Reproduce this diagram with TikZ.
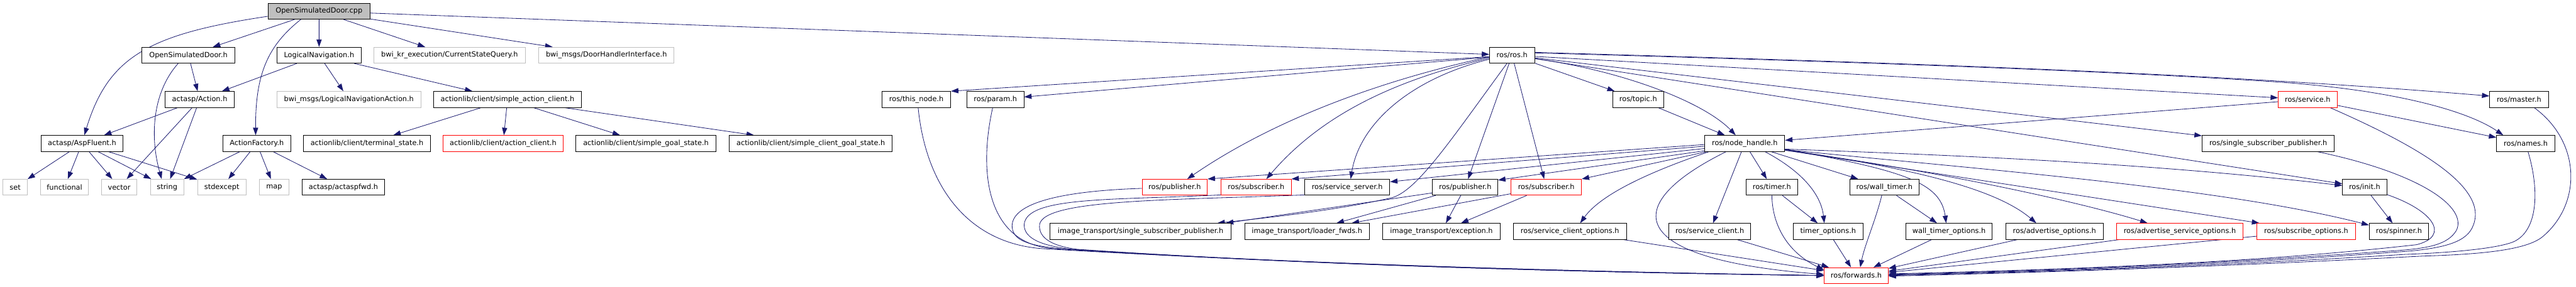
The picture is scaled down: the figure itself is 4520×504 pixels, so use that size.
\documentclass[tikz,border=0pt]{standalone}
\usepackage{fontspec}
\newfontfamily\djvfont{DejaVu Sans}
\usetikzlibrary{arrows.meta,calc}
\definecolor{edgec}{HTML}{191970}
\definecolor{nolink}{HTML}{BFBFBF}
\definecolor{rootfill}{HTML}{BFBFBF}
\definecolor{trunc}{HTML}{FF0000}
\pgfdeclarelayer{bg}
\pgfdeclarelayer{canvas}
\pgfsetlayers{canvas,bg,main}
\begin{document}
\begin{tikzpicture}[x=1pt,y=-1pt,
 nb/.style={draw=black, fill=white, line width=1pt, minimum height=28pt, inner sep=0pt, font=\djvfont\fontsize{12.5}{15}\selectfont},
 ng/.style={nb, draw=nolink},
 nr/.style={nb, draw=trunc},
 nroot/.style={nb, fill=rootfill},
 dep/.style={draw=edgec, line width=0.9pt, -{Triangle[length=13pt,width=9pt]}}]
\begin{pgfonlayer}{canvas}
\fill[white] (0,0) rectangle (4520,504);
\end{pgfonlayer}
\useasboundingbox (0,0) rectangle (4520,504);
% row 0
\node[nroot, minimum width=179.3pt] (cpp) at (559.85,19.7) {OpenSimulatedDoor.cpp};
% row 1
\node[nb, minimum width=162.8pt] (osdh) at (330.6,97) {OpenSimulatedDoor.h};
\node[nb, minimum width=147.4pt] (lognav) at (559.9,97) {LogicalNavigation.h};
\node[ng, minimum width=266pt] (csq) at (788.8,97) {bwi\_kr\_execution/CurrentStateQuery.h};
\node[ng, minimum width=237.1pt] (dhi) at (1064.05,97) {bwi\_msgs/DoorHandlerInterface.h};
\node[nb, minimum width=79pt] (rosh) at (2653.1,97) {ros/ros.h};
% row 2
\node[nb, minimum width=122.1pt] (action) at (350.45,174.7) {actasp/Action.h};
\node[ng, minimum width=252pt] (lna) at (612.2,174.7) {bwi\_msgs/LogicalNavigationAction.h};
\node[nb, minimum width=259.4pt] (sac) at (890.5,174.7) {actionlib/client/simple\_action\_client.h};
\node[nb, minimum width=120.2pt] (thisnode) at (1608,174.7) {ros/this\_node.h};
\node[nb, minimum width=99.8pt] (param) at (1746.6,174.7) {ros/param.h};
\node[nb, minimum width=89.7pt] (topic) at (2874.4,174.7) {ros/topic.h};
\node[nr, minimum width=103pt] (service) at (4049.1,174.7) {ros/service.h};
\node[nb, minimum width=103pt] (master) at (4420,174.7) {ros/master.h};
% row 3
\node[nb, minimum width=144.5pt] (aspfluent) at (143.95,252) {actasp/AspFluent.h};
\node[nb, minimum width=118.7pt] (actfac) at (450.55,252) {ActionFactory.h};
\node[nb, minimum width=222.5pt] (term) at (643.95,252) {actionlib/client/terminal\_state.h};
\node[nr, minimum width=209.9pt] (acli) at (882.75,252) {actionlib/client/action\_client.h};
\node[nb, minimum width=245.7pt] (sgs) at (1133.35,252) {actionlib/client/simple\_goal\_state.h};
\node[nb, minimum width=286.3pt] (scgs) at (1422.65,252) {actionlib/client/simple\_client\_goal\_state.h};
\node[nb, minimum width=140.3pt] (nh) at (3061.45,252) {ros/node\_handle.h};
\node[nb, minimum width=232.1pt] (ssp) at (3979.95,252) {ros/single\_subscriber\_publisher.h};
\node[nb, minimum width=102.1pt] (names) at (4431.75,252) {ros/names.h};
% row 4
\node[ng, minimum width=42.7pt] (set) at (26.65,329) {set};
\node[ng, minimum width=83.8pt] (functional) at (113.2,329) {functional};
\node[ng, minimum width=62.5pt] (vector) at (209.15,329) {vector};
\node[ng, minimum width=58.1pt] (string) at (293.25,329) {string};
\node[ng, minimum width=85.3pt] (stdexcept) at (389.25,329) {stdexcept};
\node[ng, minimum width=50.9pt] (map) at (481.05,329) {map};
\node[nb, minimum width=145.4pt] (fwd) at (602.5,329) {actasp/actaspfwd.h};
\node[nr, minimum width=114.4pt] (pub1) at (2061.2,329) {ros/publisher.h};
\node[nr, minimum width=123pt] (sub1) at (2204.1,329) {ros/subscriber.h};
\node[nb, minimum width=149.3pt] (srvserver) at (2363.95,329) {ros/service\_server.h};
\node[nb, minimum width=114.4pt] (pub2) at (2570.9,329) {ros/publisher.h};
\node[nr, minimum width=123.6pt] (sub2) at (2713.2,329) {ros/subscriber.h};
\node[nb, minimum width=91pt] (timer) at (3109,329) {ros/timer.h};
\node[nb, minimum width=120.9pt] (walltimer) at (3306.45,329) {ros/wall\_timer.h};
\node[nb, minimum width=77.6pt] (init) at (4149.1,329) {ros/init.h};
% row 5
\node[nb, minimum width=318.5pt] (isp) at (2001.35,406.5) {image\_transport/single\_subscriber\_publisher.h};
\node[nb, minimum width=218.9pt] (loader) at (2293.25,406.5) {image\_transport/loader\_fwds.h};
\node[nb, minimum width=206.5pt] (exc) at (2529.25,406.5) {image\_transport/exception.h};
\node[nb, minimum width=198.7pt] (sco) at (2754.65,406.5) {ros/service\_client\_options.h};
\node[nb, minimum width=143.7pt] (sclient) at (3000.05,406.5) {ros/service\_client.h};
\node[nb, minimum width=122.4pt] (topt) at (3207.7,406.5) {timer\_options.h};
\node[nb, minimum width=151.7pt] (wtopt) at (3419.85,406.5) {wall\_timer\_options.h};
\node[nb, minimum width=170.6pt] (advopt) at (3604.9,406.5) {ros/advertise\_options.h};
\node[nr, minimum width=222.2pt] (asopt) at (3824.7,406.5) {ros/advertise\_service\_options.h};
\node[nr, minimum width=173.5pt] (subopt) at (4046.55,406.5) {ros/subscribe\_options.h};
\node[nb, minimum width=104.1pt] (spinner) at (4209.25,406.5) {ros/spinner.h};
% row 6
\node[nr, minimum width=112.4pt] (forwards) at (3257,484.2) {ros/forwards.h};

\begin{pgfonlayer}{bg}
% OpenSimulatedDoor.cpp
\draw[dep] ($(cpp.west)+(0,9)$) .. controls (260,60) and (190,100) .. ($(aspfluent.north)+(4,0)$);
\draw[dep] (cpp) -- (osdh);
\draw[dep] ($(cpp.south)+(-32,0)$) .. controls (470,80) and (448,130) .. ($(actfac.north)+(-2,0)$);
\draw[dep] (cpp) -- (lognav);
\draw[dep] (cpp) -- (csq);
\draw[dep] (cpp) -- (dhi);
\draw[dep] (cpp) -- (rosh);
% left part
\draw[dep] (osdh) -- (action);
\draw[dep] ($(osdh.south)+(-18,0)$) .. controls (265,165) and (264,245) .. ($(string.north)+(-9.6,0)$);
\draw[dep] (lognav) -- (action);
\draw[dep] (lognav) -- (lna);
\draw[dep] (lognav) -- (sac);
\draw[dep] (action) -- (aspfluent);
\draw[dep] (action) -- (vector);
\draw[dep] (action) -- (string);
\draw[dep] (aspfluent) -- (set);
\draw[dep] (aspfluent) -- (functional);
\draw[dep] (aspfluent) -- (vector);
\draw[dep] (aspfluent) -- (string);
\draw[dep] (aspfluent) -- (stdexcept);
\draw[dep] (actfac) -- (string);
\draw[dep] (actfac) -- (stdexcept);
\draw[dep] (actfac) -- (map);
\draw[dep] (actfac) -- (fwd);
\draw[dep] (sac) -- (term);
\draw[dep] (sac) -- (acli);
\draw[dep] (sac) -- (sgs);
\draw[dep] (sac) -- (scgs);
% ros/ros.h
\draw[dep] (rosh) -- (thisnode.north east);
\draw[dep] (rosh) -- (param);
\draw[dep] (rosh) -- (topic);
\draw[dep] ($(rosh.east)+(0,6)$) .. controls (2850,125) and (2990,180) .. ($(nh.north)+(-16,0)$);
\draw[dep] ($(rosh.west)+(0,3)$) .. controls (2450,135) and (2250,200) .. ($(pub1.north)+(22,0)$);
\draw[dep] ($(rosh.west)+(0,5)$) .. controls (2450,140) and (2320,200) .. ($(sub1.north)+(18,0)$);
\draw[dep] ($(rosh.west)+(0,7)$) .. controls (2470,140) and (2385,220) .. ($(srvserver.north)+(6,0)$);
\draw[dep] ($(rosh.south)+(-9,0)$) .. controls (2544,248) and (2485,338) .. (2440,348) .. controls (2350,368) and (2250,380) .. ($(isp.north east)+(-25,0)$);
\draw[dep] (rosh) -- (pub2);
\draw[dep] (rosh) -- (sub2);
\draw[dep] (rosh) -- (service);
\draw[dep] ($(rosh.east)+(0,-5)$) .. controls (3400,112) and (3900,130) .. ($(master.west)+(0,-6)$);
\draw[dep] ($(rosh.east)+(0,-4)$) .. controls (3300,110) and (3700,125) .. (3980,143) .. controls (4200,157) and (4330,195) .. ($(names.north west)+(12,0)$);
\draw[dep] (rosh) -- (ssp);
\draw[dep] (rosh) -- ($(init.west)+(0,-6)$);
\draw[dep] (topic) -- (nh);
\draw[dep] (service) -- (nh);
\draw[dep] (service) -- (names);
% ros/node_handle.h
\draw[dep] ($(nh.west)+(0,2)$) -- (pub1.north east);
\draw[dep] ($(nh.west)+(0,5)$) -- (sub1.north east);
\draw[dep] ($(nh.west)+(0,9)$) -- ($(srvserver.north east)+(0,5)$);
\draw[dep] ($(nh.west)+(0,13)$) -- ($(pub2.north east)+(0,2)$);
\draw[dep] ($(nh.south west)+(4,0)$) -- (sub2.north east);
\draw[dep] ($(nh.south west)+(8,0)$) .. controls (2900,300) and (2810,340) .. ($(sco.north)+(18,0)$);
\draw[dep] ($(nh.south west)+(38,0)$) .. controls (2840,360) and (2850,455) .. ($(forwards.west)+(0,-2)$);
\draw[dep] (nh) -- (sclient);
\draw[dep] (nh) -- (timer);
\draw[dep] ($(nh.south)+(35.4,0)$) .. controls (3160,300) and (3195,340) .. ($(topt.north)+(-6.7,0)$);
\draw[dep] (nh) -- (walltimer);
\draw[dep] ($(nh.east)+(0,10)$) .. controls (3340,300) and (3405,320) .. ($(wtopt.north)+(-5,0)$);
\draw[dep] ($(nh.east)+(0,11)$) .. controls (3350,295) and (3500,330) .. ($(advopt.north)+(-32,0)$);
\draw[dep] ($(nh.east)+(0,12)$) .. controls (3400,300) and (3650,355) .. ($(asopt.north west)+(55,0)$);
\draw[dep] ($(nh.east)+(0,12)$) -- ($(subopt.north west)+(5,0)$);
\draw[dep] ($(nh.east)+(0,11)$) .. controls (3500,300) and (3900,330) .. ($(spinner.west)+(0,-11)$);
\draw[dep] ($(nh.east)+(0,10)$) .. controls (3500,275) and (3800,290) .. ($(init.west)+(0,-3)$);
% image_transport
\draw[dep] ($(pub2.west)+(0,10)$) -- ($(isp.north east)+(-10,0)$);
\draw[dep] (pub2) -- (loader);
\draw[dep] (pub2) -- (exc);
\draw[dep] (sub2) -- (loader);
\draw[dep] (sub2) -- (exc);
% timers
\draw[dep] (timer) -- (topt);
\draw[dep] (walltimer) -- (wtopt);
\draw[dep] (init) -- (spinner);
% into ros/forwards.h from the left
\draw[dep] ($(thisnode.south)+(3,0)$) .. controls (1625,330) and (1700,428) .. (1830,437) .. controls (2300,465) and (2800,478) .. (forwards.west);
\draw[dep] ($(param.south)+(-4.8,0)$) .. controls (1715,310) and (1735,430) .. (1850,437) .. controls (2300,465) and (2800,478) .. (forwards.west);
\draw[dep] ($(pub1.west)+(0,2)$) .. controls (1850,336) and (1772,360) .. (1776,400) .. controls (1779,425) and (1810,432) .. (1870,438) .. controls (2300,466) and (2800,479) .. (forwards.west);
\draw[dep] ($(sub1.south west)+(0,-1)$) .. controls (1950,352) and (1800,345) .. (1797,395) .. controls (1797,420) and (1830,432) .. (1880,438) .. controls (2300,466) and (2800,479) .. (forwards.west);
\draw[dep] ($(srvserver.south west)+(0,-1)$) .. controls (2050,352) and (1830,350) .. (1824,395) .. controls (1822,420) and (1850,433) .. (1890,438) .. controls (2300,466) and (2800,479) .. (forwards.west);
\draw[dep] (sco) -- (forwards);
\draw[dep] (sclient) -- (forwards);
\draw[dep] (timer.south) .. controls (3110,400) and (3140,445) .. ($(forwards.west)+(0,-10)$);
\draw[dep] (topt) -- (forwards);
\draw[dep] ($(walltimer.south)+(-4.6,0)$) .. controls (3290,390) and (3272,430) .. ($(forwards.north)+(7,0)$);
\draw[dep] (wtopt) -- (forwards);
\draw[dep] (advopt) -- (forwards);
\draw[dep] (asopt) -- (forwards);
\draw[dep] (subopt) -- (forwards);
% into ros/forwards.h from the right
\draw[dep] ($(init.east)+(0,13)$) .. controls (4270,370) and (4300,415) .. (4240,430) .. controls (3990,458) and (3700,472) .. ($(forwards.east)+(0,-3)$);
\draw[dep] ($(ssp.south)+(86,0)$) .. controls (4250,305) and (4330,365) .. (4310,405) .. controls (4295,430) and (4260,436) .. (4210,440) .. controls (3960,458) and (3700,473) .. ($(forwards.east)+(0,-2)$);
\draw[dep] ($(service.south)+(39.4,0)$) .. controls (4250,260) and (4365,330) .. (4340,395) .. controls (4330,425) and (4290,435) .. (4230,441) .. controls (3980,460) and (3700,474) .. ($(forwards.east)+(0,-1)$);
\draw[dep] ($(names.south)+(4,0)$) .. controls (4455,330) and (4455,405) .. (4410,425) .. controls (4380,437) and (4300,444) .. (4220,447) .. controls (3980,462) and (3700,475) .. (forwards.east);
\draw[dep] ($(master.south)+(26.6,0)$) .. controls (4530,250) and (4530,360) .. (4460,417) .. controls (4430,440) and (4350,447) .. (4250,450) .. controls (4000,463) and (3700,476) .. ($(forwards.east)+(0,1)$);
\end{pgfonlayer}
\end{tikzpicture}
\end{document}
